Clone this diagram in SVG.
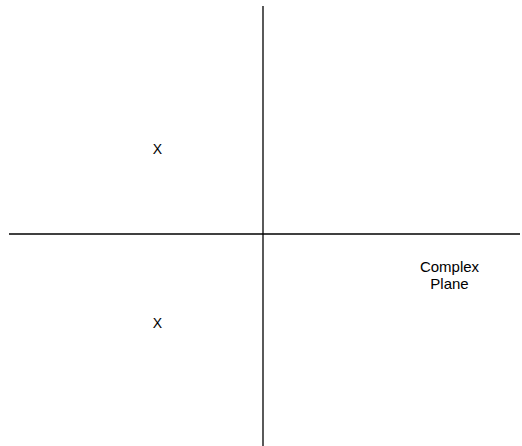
<svg xmlns="http://www.w3.org/2000/svg" width="522" height="446" viewBox="0 0 522 446">
<style>
.ax{stroke:#000;stroke-width:1.3;fill:none}
.t{font-family:"Liberation Sans",Arial,sans-serif;fill:#000}
</style>
<rect width="522" height="446" fill="#fff"/>
<g id="connectors">
<line class="ax" x1="263" y1="6" x2="263" y2="446"/>
<line class="ax" x1="9" y1="234" x2="520" y2="234"/>
</g>
<g id="pole1"><text class="t" x="157.5" y="153.5" font-size="14" text-anchor="middle">X</text></g>
<g id="pole2"><text class="t" x="157.5" y="327.5" font-size="14" text-anchor="middle">X</text></g>
<g id="label"><text class="t" font-size="15" text-anchor="middle"><tspan x="449.5" y="272">Complex</tspan><tspan x="449.5" y="289">Plane</tspan></text></g>
</svg>
